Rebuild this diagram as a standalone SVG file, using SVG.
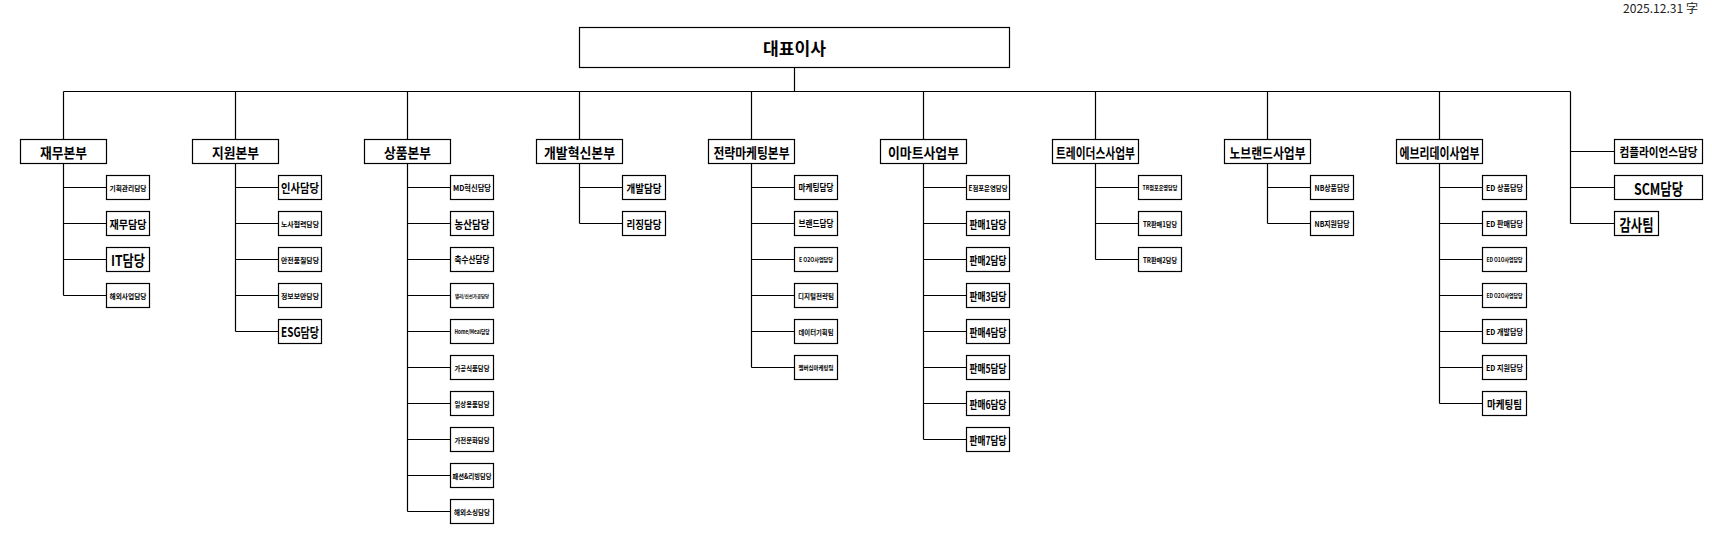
<svg xmlns="http://www.w3.org/2000/svg" width="1712" height="533" viewBox="0 0 1712 533">
<style>
rect{fill:#fff;stroke:#000;stroke-width:1.2}
.c{fill:none;stroke:#000;stroke-width:1.2}
text{font-family:"Noto Sans CJK KR","Noto Sans",sans-serif;font-weight:700;fill:#000;text-anchor:middle;dominant-baseline:central}
.dt{font-weight:400;text-anchor:end;dominant-baseline:auto;fill:#222}
</style>
<rect x="0" y="0" width="1712" height="533" style="stroke:none"/>
<text class="dt" x="1698" y="12.5" font-size="12" textLength="75" lengthAdjust="spacingAndGlyphs">2025.12.31 字</text>

<g id="connectors">
<path class="c" d="M794.5 67.5V91.5M63.5 91.5H1570.5
M63.5 91.5V139.5M235.5 91.5V139.5M407.5 91.5V139.5M579.5 91.5V139.5M751.5 91.5V139.5M923.5 91.5V139.5M1095.5 91.5V139.5M1267.5 91.5V139.5M1439.5 91.5V139.5
M1570.5 91.5V223.5M1570.5 151.5H1614.5M1570.5 187.5H1614.5M1570.5 223.5H1614.5
M63.5 163.5V295.5M63.5 187.5H106.5M63.5 223.5H106.5M63.5 259.5H106.5M63.5 295.5H106.5
M235.5 163.5V331.5M235.5 187.5H278.5M235.5 223.5H278.5M235.5 259.5H278.5M235.5 295.5H278.5M235.5 331.5H278.5
M407.5 163.5V511.5M407.5 187.5H450.5M407.5 223.5H450.5M407.5 259.5H450.5M407.5 295.5H450.5M407.5 331.5H450.5M407.5 367.5H450.5M407.5 403.5H450.5M407.5 439.5H450.5M407.5 475.5H450.5M407.5 511.5H450.5
M579.5 163.5V223.5M579.5 187.5H622.5M579.5 223.5H622.5
M751.5 163.5V367.5M751.5 187.5H794.5M751.5 223.5H794.5M751.5 259.5H794.5M751.5 295.5H794.5M751.5 331.5H794.5M751.5 367.5H794.5
M923.5 163.5V439.5M923.5 187.5H966.5M923.5 223.5H966.5M923.5 259.5H966.5M923.5 295.5H966.5M923.5 331.5H966.5M923.5 367.5H966.5M923.5 403.5H966.5M923.5 439.5H966.5
M1095.5 163.5V259.5M1095.5 187.5H1138.5M1095.5 223.5H1138.5M1095.5 259.5H1138.5
M1267.5 163.5V223.5M1267.5 187.5H1310.5M1267.5 223.5H1310.5
M1439.5 163.5V403.5M1439.5 187.5H1482.5M1439.5 223.5H1482.5M1439.5 259.5H1482.5M1439.5 295.5H1482.5M1439.5 331.5H1482.5M1439.5 367.5H1482.5M1439.5 403.5H1482.5"/>
</g>

<g id="ceo"><rect x="579.5" y="27.5" width="430" height="40"/><text x="794.5" y="47.5" font-size="17" textLength="63" lengthAdjust="spacingAndGlyphs">대표이사</text></g>

<g id="div-finance">
<rect x="20.5" y="139.5" width="86" height="24"/><text x="63.5" y="151.5" font-size="14" textLength="47" lengthAdjust="spacingAndGlyphs">재무본부</text>
<g id="fin-1"><rect x="106.5" y="175.5" width="43" height="24"/><text x="128" y="187.5" font-size="7" textLength="37" lengthAdjust="spacingAndGlyphs">기획관리담당</text></g>
<g id="fin-2"><rect x="106.5" y="211.5" width="43" height="24"/><text x="128" y="223.5" font-size="11" textLength="37" lengthAdjust="spacingAndGlyphs">재무담당</text></g>
<g id="fin-3"><rect x="106.5" y="247.5" width="43" height="24"/><text x="128" y="259.5" font-size="15" textLength="34" lengthAdjust="spacingAndGlyphs">IT담당</text></g>
<g id="fin-4"><rect x="106.5" y="283.5" width="43" height="24"/><text x="128" y="295.5" font-size="7" textLength="37" lengthAdjust="spacingAndGlyphs">해외사업담당</text></g>
</g>

<g id="div-support">
<rect x="192.5" y="139.5" width="86" height="24"/><text x="235.5" y="151.5" font-size="14" textLength="47" lengthAdjust="spacingAndGlyphs">지원본부</text>
<g id="sup-1"><rect x="278.5" y="175.5" width="43" height="24"/><text x="300" y="187.5" font-size="12" textLength="38" lengthAdjust="spacingAndGlyphs">인사담당</text></g>
<g id="sup-2"><rect x="278.5" y="211.5" width="43" height="24"/><text x="300" y="223.5" font-size="7" textLength="38" lengthAdjust="spacingAndGlyphs">노사협력담당</text></g>
<g id="sup-3"><rect x="278.5" y="247.5" width="43" height="24"/><text x="300" y="259.5" font-size="7" textLength="38" lengthAdjust="spacingAndGlyphs">안전품질담당</text></g>
<g id="sup-4"><rect x="278.5" y="283.5" width="43" height="24"/><text x="300" y="295.5" font-size="7" textLength="38" lengthAdjust="spacingAndGlyphs">정보보안담당</text></g>
<g id="sup-5"><rect x="278.5" y="319.5" width="43" height="24"/><text x="300" y="331.5" font-size="13" textLength="38" lengthAdjust="spacingAndGlyphs">ESG담당</text></g>
</g>

<g id="div-merch">
<rect x="364.5" y="139.5" width="86" height="24"/><text x="407.5" y="151.5" font-size="14" textLength="47" lengthAdjust="spacingAndGlyphs">상품본부</text>
<g id="mer-1"><rect x="450.5" y="175.5" width="43" height="24"/><text x="472" y="187.5" font-size="8" textLength="38" lengthAdjust="spacingAndGlyphs">MD혁신담당</text></g>
<g id="mer-2"><rect x="450.5" y="211.5" width="43" height="24"/><text x="472" y="223.5" font-size="11" textLength="35" lengthAdjust="spacingAndGlyphs">농산담당</text></g>
<g id="mer-3"><rect x="450.5" y="247.5" width="43" height="24"/><text x="472" y="259.5" font-size="9" textLength="35" lengthAdjust="spacingAndGlyphs">축수산담당</text></g>
<g id="mer-4"><rect x="450.5" y="283.5" width="43" height="24"/><text x="472" y="295.5" font-size="5" textLength="34" lengthAdjust="spacingAndGlyphs">델리/신선가공담당</text></g>
<g id="mer-5"><rect x="450.5" y="319.5" width="43" height="24"/><text x="472" y="331.5" font-size="6" textLength="35" lengthAdjust="spacingAndGlyphs">Home/Meal담당</text></g>
<g id="mer-6"><rect x="450.5" y="355.5" width="43" height="24"/><text x="472" y="367.5" font-size="7" textLength="35" lengthAdjust="spacingAndGlyphs">가공식품담당</text></g>
<g id="mer-7"><rect x="450.5" y="391.5" width="43" height="24"/><text x="472" y="403.5" font-size="7" textLength="35" lengthAdjust="spacingAndGlyphs">일상용품담당</text></g>
<g id="mer-8"><rect x="450.5" y="427.5" width="43" height="24"/><text x="472" y="439.5" font-size="7" textLength="35" lengthAdjust="spacingAndGlyphs">가전문화담당</text></g>
<g id="mer-9"><rect x="450.5" y="463.5" width="43" height="24"/><text x="472" y="475.5" font-size="7" textLength="39" lengthAdjust="spacingAndGlyphs">패션&amp;리빙담당</text></g>
<g id="mer-10"><rect x="450.5" y="499.5" width="43" height="24"/><text x="472" y="511.5" font-size="7" textLength="36" lengthAdjust="spacingAndGlyphs">해외소싱담당</text></g>
</g>

<g id="div-devinno">
<rect x="536.5" y="139.5" width="86" height="24"/><text x="579.5" y="151.5" font-size="14" textLength="71" lengthAdjust="spacingAndGlyphs">개발혁신본부</text>
<g id="dev-1"><rect x="622.5" y="175.5" width="43" height="24"/><text x="644" y="187.5" font-size="11" textLength="35" lengthAdjust="spacingAndGlyphs">개발담당</text></g>
<g id="dev-2"><rect x="622.5" y="211.5" width="43" height="24"/><text x="644" y="223.5" font-size="11" textLength="35" lengthAdjust="spacingAndGlyphs">리징담당</text></g>
</g>

<g id="div-marketing">
<rect x="708.5" y="139.5" width="86" height="24"/><text x="751.5" y="151.5" font-size="14" textLength="76" lengthAdjust="spacingAndGlyphs">전략마케팅본부</text>
<g id="mkt-1"><rect x="794.5" y="175.5" width="43" height="24"/><text x="816" y="187.5" font-size="9" textLength="35" lengthAdjust="spacingAndGlyphs">마케팅담당</text></g>
<g id="mkt-2"><rect x="794.5" y="211.5" width="43" height="24"/><text x="816" y="223.5" font-size="9" textLength="35" lengthAdjust="spacingAndGlyphs">브랜드담당</text></g>
<g id="mkt-3"><rect x="794.5" y="247.5" width="43" height="24"/><text x="816" y="259.5" font-size="6" textLength="34" lengthAdjust="spacingAndGlyphs">E O2O사업담당</text></g>
<g id="mkt-4"><rect x="794.5" y="283.5" width="43" height="24"/><text x="816" y="295.5" font-size="7" textLength="36" lengthAdjust="spacingAndGlyphs">디지털전략팀</text></g>
<g id="mkt-5"><rect x="794.5" y="319.5" width="43" height="24"/><text x="816" y="331.5" font-size="7" textLength="35" lengthAdjust="spacingAndGlyphs">데이터기획팀</text></g>
<g id="mkt-6"><rect x="794.5" y="355.5" width="43" height="24"/><text x="816" y="367.5" font-size="6" textLength="35" lengthAdjust="spacingAndGlyphs">멤버십마케팅팀</text></g>
</g>

<g id="div-emart">
<rect x="880.5" y="139.5" width="86" height="24"/><text x="923.5" y="151.5" font-size="14" textLength="71" lengthAdjust="spacingAndGlyphs">이마트사업부</text>
<g id="em-1"><rect x="966.5" y="175.5" width="43" height="24"/><text x="988" y="187.5" font-size="7" textLength="39" lengthAdjust="spacingAndGlyphs">E점포운영담당</text></g>
<g id="em-2"><rect x="966.5" y="211.5" width="43" height="24"/><text x="988" y="223.5" font-size="11" textLength="37" lengthAdjust="spacingAndGlyphs">판매1담당</text></g>
<g id="em-3"><rect x="966.5" y="247.5" width="43" height="24"/><text x="988" y="259.5" font-size="11" textLength="37" lengthAdjust="spacingAndGlyphs">판매2담당</text></g>
<g id="em-4"><rect x="966.5" y="283.5" width="43" height="24"/><text x="988" y="295.5" font-size="11" textLength="37" lengthAdjust="spacingAndGlyphs">판매3담당</text></g>
<g id="em-5"><rect x="966.5" y="319.5" width="43" height="24"/><text x="988" y="331.5" font-size="11" textLength="37" lengthAdjust="spacingAndGlyphs">판매4담당</text></g>
<g id="em-6"><rect x="966.5" y="355.5" width="43" height="24"/><text x="988" y="367.5" font-size="11" textLength="37" lengthAdjust="spacingAndGlyphs">판매5담당</text></g>
<g id="em-7"><rect x="966.5" y="391.5" width="43" height="24"/><text x="988" y="403.5" font-size="11" textLength="37" lengthAdjust="spacingAndGlyphs">판매6담당</text></g>
<g id="em-8"><rect x="966.5" y="427.5" width="43" height="24"/><text x="988" y="439.5" font-size="11" textLength="37" lengthAdjust="spacingAndGlyphs">판매7담당</text></g>
</g>

<g id="div-traders">
<rect x="1052.5" y="139.5" width="86" height="24"/><text x="1095.5" y="151.5" font-size="14" textLength="79" lengthAdjust="spacingAndGlyphs">트레이더스사업부</text>
<g id="tr-1"><rect x="1138.5" y="175.5" width="43" height="24"/><text x="1160" y="187.5" font-size="6" textLength="35" lengthAdjust="spacingAndGlyphs">TR점포운영담당</text></g>
<g id="tr-2"><rect x="1138.5" y="211.5" width="43" height="24"/><text x="1160" y="223.5" font-size="7" textLength="34" lengthAdjust="spacingAndGlyphs">TR판매1담당</text></g>
<g id="tr-3"><rect x="1138.5" y="247.5" width="43" height="24"/><text x="1160" y="259.5" font-size="7" textLength="34" lengthAdjust="spacingAndGlyphs">TR판매2담당</text></g>
</g>

<g id="div-nobrand">
<rect x="1224.5" y="139.5" width="86" height="24"/><text x="1267.5" y="151.5" font-size="14" textLength="76" lengthAdjust="spacingAndGlyphs">노브랜드사업부</text>
<g id="nb-1"><rect x="1310.5" y="175.5" width="43" height="24"/><text x="1332" y="187.5" font-size="8" textLength="35" lengthAdjust="spacingAndGlyphs">NB상품담당</text></g>
<g id="nb-2"><rect x="1310.5" y="211.5" width="43" height="24"/><text x="1332" y="223.5" font-size="8" textLength="35" lengthAdjust="spacingAndGlyphs">NB지원담당</text></g>
</g>

<g id="div-everyday">
<rect x="1396.5" y="139.5" width="86" height="24"/><text x="1439.5" y="151.5" font-size="14" textLength="80" lengthAdjust="spacingAndGlyphs">에브리데이사업부</text>
<g id="ed-1"><rect x="1482.5" y="175.5" width="44" height="24"/><text x="1504.5" y="187.5" font-size="8" textLength="37" lengthAdjust="spacingAndGlyphs">ED 상품담당</text></g>
<g id="ed-2"><rect x="1482.5" y="211.5" width="44" height="24"/><text x="1504.5" y="223.5" font-size="8" textLength="37" lengthAdjust="spacingAndGlyphs">ED 판매담당</text></g>
<g id="ed-3"><rect x="1482.5" y="247.5" width="44" height="24"/><text x="1504.5" y="259.5" font-size="6" textLength="36" lengthAdjust="spacingAndGlyphs">ED O1O사업담당</text></g>
<g id="ed-4"><rect x="1482.5" y="283.5" width="44" height="24"/><text x="1504.5" y="295.5" font-size="6" textLength="36" lengthAdjust="spacingAndGlyphs">ED O2O사업담당</text></g>
<g id="ed-5"><rect x="1482.5" y="319.5" width="44" height="24"/><text x="1504.5" y="331.5" font-size="8" textLength="37" lengthAdjust="spacingAndGlyphs">ED 개발담당</text></g>
<g id="ed-6"><rect x="1482.5" y="355.5" width="44" height="24"/><text x="1504.5" y="367.5" font-size="8" textLength="37" lengthAdjust="spacingAndGlyphs">ED 지원담당</text></g>
<g id="ed-7"><rect x="1482.5" y="391.5" width="44" height="24"/><text x="1504.5" y="403.5" font-size="11" textLength="35" lengthAdjust="spacingAndGlyphs">마케팅팀</text></g>
</g>

<g id="compliance"><rect x="1614.5" y="139.5" width="88" height="24"/><text x="1658.5" y="151.5" font-size="12" textLength="78" lengthAdjust="spacingAndGlyphs">컴플라이언스담당</text></g>
<g id="scm"><rect x="1614.5" y="175.5" width="88" height="24"/><text x="1658.5" y="187.5" font-size="16" textLength="49" lengthAdjust="spacingAndGlyphs">SCM담당</text></g>
<g id="audit"><rect x="1614.5" y="211.5" width="44" height="24"/><text x="1636.5" y="223.5" font-size="16" textLength="34" lengthAdjust="spacingAndGlyphs">감사팀</text></g>
</svg>
